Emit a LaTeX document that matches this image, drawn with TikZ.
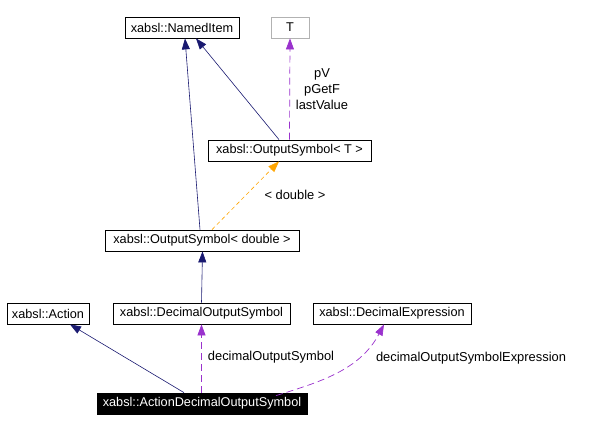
\documentclass[tikz,border=0pt]{standalone}
\usepackage{fontspec}
\setmainfont{Liberation Sans}
\usetikzlibrary{arrows.meta,calc}
\definecolor{navy}{HTML}{191970}
\definecolor{purp}{HTML}{9A32CD}
\definecolor{orng}{HTML}{FFA500}
\tikzset{
  box/.style={draw=black, fill=white, inner sep=0pt, minimum height=21pt, font=\fontsize{12.7}{15}\selectfont, line width=0.8pt},
  graybox/.style={box, draw=gray!60},
  blackbox/.style={box, fill=black, text=white},
  lbl/.style={font=\fontsize{12.9}{16}\selectfont, inner sep=0pt, align=center},
  inh/.style={draw=navy, line width=0.6pt, -{Triangle[length=11pt,width=8pt]}},
  use/.style={draw=purp, line width=0.7pt, dash pattern=on 7pt off 4pt, -{Triangle[length=11pt,width=8pt]}},
  tmpl/.style={draw=orng, line width=0.6pt, dash pattern=on 4pt off 3pt, -{Triangle[length=11pt,width=8pt]}}
}
\begin{document}
\begin{tikzpicture}[x=1pt,y=-1pt]
\useasboundingbox (0,0) rectangle (599,431);
\node[box, minimum width=114pt] (ni) at (182,27.5) {xabsl::NamedItem};
\node[graybox, minimum width=38pt] (t) at (290,27.5) {T};
\node[box, minimum width=163pt] (ost) at (289.5,150.5) {xabsl::OutputSymbol< T >};
\node[box, minimum width=194pt] (osd) at (202,240.5) {xabsl::OutputSymbol< double >};
\node[box, minimum width=82pt] (act) at (48,313.5) {xabsl::Action};
\node[box, minimum width=177pt] (dos) at (201.5,313.5) {xabsl::DecimalOutputSymbol};
\node[box, minimum width=158pt] (de) at (392,313.5) {xabsl::DecimalExpression};
\node[blackbox, minimum width=210pt] (ados) at (202,403.5) {xabsl::ActionDecimalOutputSymbol};

\draw[inh] ([xshift=-2pt]osd.north) -- ([xshift=3pt]ni.south);
\draw[inh] ([xshift=-10.5pt]ost.north) -- ([xshift=14pt]ni.south);
\draw[use] (ost.north) -- (t.south);
\node[lbl] (l1) at (322,89) {pV\\pGetF\\lastValue};
\draw[tmpl] ([xshift=10pt]osd.north) -- ([xshift=-10.5pt]ost.south);
\node[lbl] (l2) at (295,195) {< double >};
\draw[inh] ([xshift=-18pt]ados.north) -- ([xshift=22pt]act.south);
\draw[inh] (dos.north) -- ([xshift=0.5pt]osd.south);
\draw[use] ([xshift=-0.5pt]ados.north) -- (dos.south);
\node[lbl] (l3) at (271,357) {decimalOutputSymbol};
\draw[use] ([xshift=74pt,yshift=-3pt]ados.north) .. controls (320,382) and (360,370) .. ([xshift=-8pt]de.south);
\node[lbl] (l4) at (471,358) {decimalOutputSymbolExpression};
\end{tikzpicture}
\end{document}
